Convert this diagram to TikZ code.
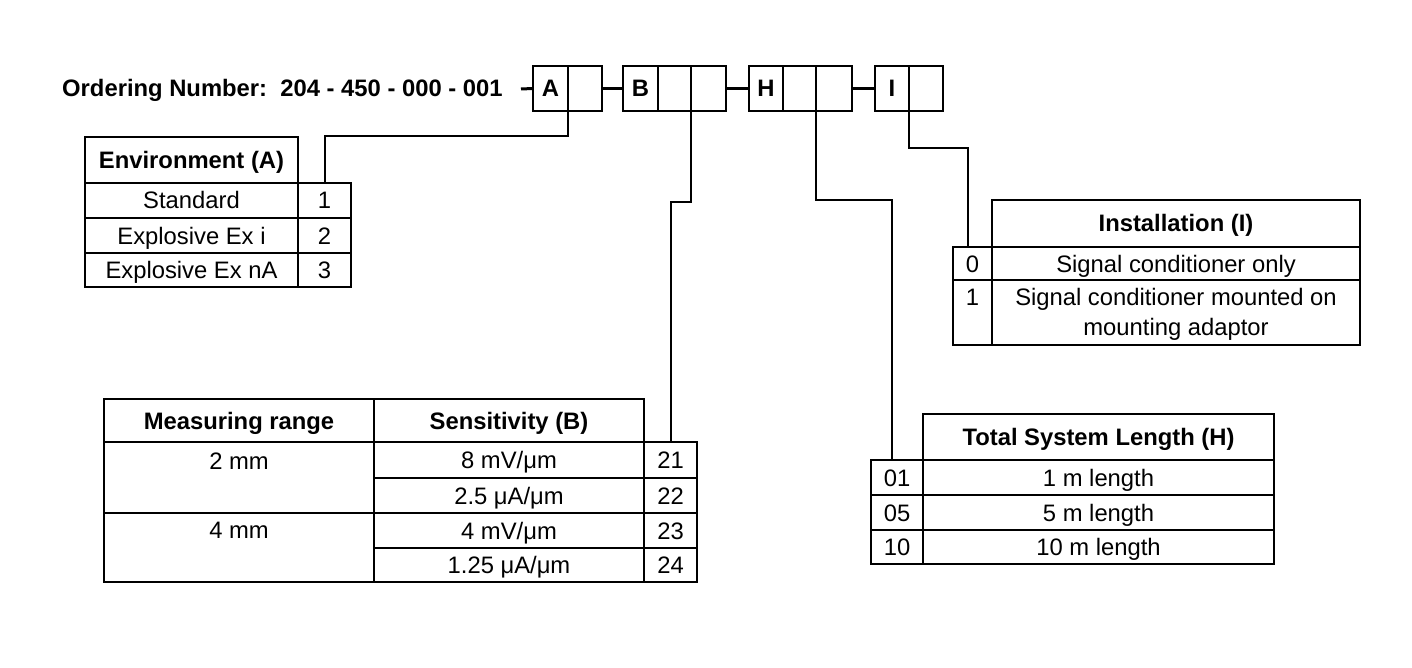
\documentclass[tikz,border=0pt]{standalone}
\usepackage{fontspec}
\setmainfont{Liberation Sans}
\usetikzlibrary{calc}
\tikzset{
  cellsty/.style={draw=black, line width=2pt, inner sep=0pt, outer sep=0pt, font=\fontsize{23.8}{30}\selectfont, align=center, text height=17pt, text depth=0pt},
  bf/.style={font=\fontsize{23.8}{30}\selectfont\bfseries},
  txt/.style={inner sep=0pt, font=\fontsize{23.8}{30}\selectfont, align=center},
  onel/.style={text height=17pt, text depth=0pt},
  wire/.style={line width=2pt, line cap=rect},
  dashline/.style={line width=3pt}
}
\newcommand\cellbox[7][]{%
  \pgfmathsetmacro\cx{(#3+#5)/2}\pgfmathsetmacro\cy{(#4+#6)/2}%
  \pgfmathsetmacro\cw{#5-#3}\pgfmathsetmacro\ch{#6-#4}%
  \node[cellsty,#1,minimum width=\cw pt,minimum height=\ch pt] (#2) at (\cx,\cy) {#7};}
\begin{document}
\begin{tikzpicture}[x=1pt,y=-1pt]
\useasboundingbox (0,0) rectangle (1412,668);
% ordering number
\node[txt, bf, onel, anchor=west] (title) at (62,88) {Ordering Number:\ \ 204 - 450 - 000 - 001};
% code boxes
\cellbox[bf]{A1}{533}{66}{568}{111}{A}
\cellbox{A2}{568}{66}{602}{111}{}
\cellbox[bf]{B1}{623}{66}{658}{111}{B}
\cellbox{B2}{658}{66}{691}{111}{}
\cellbox{B3}{691}{66}{726}{111}{}
\cellbox[bf]{H1}{749}{66}{783}{111}{H}
\cellbox{H2}{783}{66}{816}{111}{}
\cellbox{H3}{816}{66}{852}{111}{}
\cellbox[bf]{I1}{875}{66}{909}{111}{I}
\cellbox{I2}{909}{66}{943}{111}{}
\coordinate (lead) at (521,89);
\draw[dashline] (lead) -- (A1.west);
\draw[dashline] (A2.east) -- (B1.west);
\draw[dashline] (B3.east) -- (H1.west);
\draw[dashline] (H3.east) -- (I1.west);
% Environment table
\cellbox[bf]{envh}{85}{137}{298}{183}{Environment (A)}
\cellbox{env1}{85}{183}{298}{218}{Standard}
\cellbox{env2}{85}{218}{298}{253}{Explosive Ex i}
\cellbox{env3}{85}{253}{298}{287}{Explosive Ex nA}
\cellbox{e1}{298}{183}{351}{218}{1}
\cellbox{e2}{298}{218}{351}{253}{2}
\cellbox{e3}{298}{253}{351}{287}{3}
% Measuring table
\cellbox[bf]{mh}{104}{399}{374}{442}{Measuring range}
\cellbox[bf]{sh}{374}{399}{644}{442}{Sensitivity (B)}
\cellbox{m2}{104}{442}{374}{513}{}
\cellbox{m4}{104}{513}{374}{582}{}
\node[txt, onel] (m2t) at (239,461) {2 mm};
\node[txt, onel] (m4t) at (239,530) {4 mm};
\cellbox{s21}{374}{442}{644}{478}{8 mV/μm}
\cellbox{s22}{374}{478}{644}{513}{2.5 μA/μm}
\cellbox{s23}{374}{513}{644}{548}{4 mV/μm}
\cellbox{s24}{374}{548}{644}{582}{1.25 μA/μm}
\cellbox{b21}{644}{442}{697}{478}{21}
\cellbox{b22}{644}{478}{697}{513}{22}
\cellbox{b23}{644}{513}{697}{548}{23}
\cellbox{b24}{644}{548}{697}{582}{24}
% Installation table
\cellbox[bf]{ih}{992}{200}{1360}{247}{Installation (I)}
\cellbox{i0}{953}{247}{992}{280}{0}
\cellbox{i1}{953}{280}{992}{345}{}
\node[txt, onel] (i1t) at (972.5,297) {1};
\cellbox{it0}{992}{247}{1360}{280}{Signal conditioner only}
\cellbox{it1}{992}{280}{1360}{345}{}
\node[txt] (it1t) at (1176,314.5) {Signal conditioner mounted on\\mounting adaptor};
% Total system length table
\cellbox[bf]{th}{923}{414}{1274}{460}{Total System Length (H)}
\cellbox{h01}{871}{460}{923}{495}{01}
\cellbox{h05}{871}{495}{923}{530}{05}
\cellbox{h10}{871}{530}{923}{564}{10}
\cellbox{t01}{923}{460}{1274}{495}{1 m length}
\cellbox{t05}{923}{495}{1274}{530}{5 m length}
\cellbox{t10}{923}{530}{1274}{564}{10 m length}
% connectors
\draw[wire] (A1.south east) -- ++(0,25) -| (e1.north);
\draw[wire] (B2.south east) -- ++(0,91) -| (b21.north);
\draw[wire] (H2.south east) -- ++(0,89) -| ($(h01.north)+(-5,0)$);
\draw[wire] (I1.south east) -- ++(0,37) -| ($(i0.north)+(-5,0)$);
\end{tikzpicture}
\end{document}
